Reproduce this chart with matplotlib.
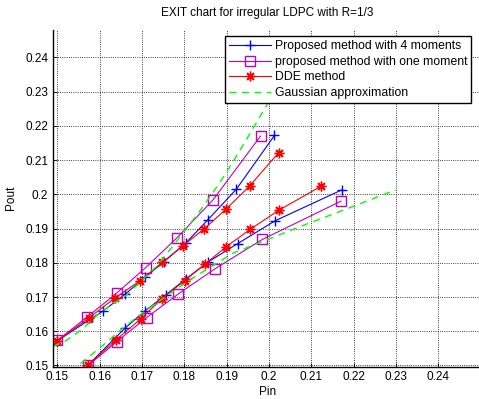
import matplotlib
matplotlib.use("Agg")
from matplotlib import pyplot as plt
import numpy as np

plt.rcParams['font.family'] = ['Liberation Sans', 'DejaVu Sans']

# upper branch of each curve (Pin, Pout); the lower branch is the inverse
pin_4mom = [0.1500, 0.1609, 0.1660, 0.1707, 0.1752, 0.1803, 0.1856, 0.1923, 0.2013]
pout_4mom = [0.1572, 0.1660, 0.1708, 0.1757, 0.1803, 0.1857, 0.1926, 0.2015, 0.2172]

pin_1mom = [0.1500, 0.1570, 0.1640, 0.1709, 0.1782, 0.1868, 0.1980]
pout_1mom = [0.1573, 0.1641, 0.1711, 0.1786, 0.1872, 0.1984, 0.2170]

pin_dde = [0.1500, 0.1574, 0.1636, 0.1695, 0.1748, 0.1796, 0.1846, 0.1898, 0.1954, 0.2023]
pout_dde = [0.1572, 0.1638, 0.1697, 0.1747, 0.1801, 0.1849, 0.1898, 0.1956, 0.2024, 0.2122]

# gaussian approximation, both branches
pin_ga_up = [0.1490, 0.1520, 0.1560, 0.1601, 0.1664, 0.1735, 0.1789, 0.1836, 0.1880, 0.1915, 0.1954, 0.1993, 0.2013]
pout_ga_up = [0.1556, 0.1572, 0.1607, 0.1655, 0.1706, 0.1790, 0.1874, 0.1950, 0.2027, 0.2095, 0.2175, 0.2257, 0.2300]
pin_ga_lo = [0.1555, 0.1609, 0.1656, 0.1703, 0.1758, 0.1813, 0.1915, 0.2072, 0.2189, 0.2299]
pout_ga_lo = [0.1505, 0.1560, 0.1610, 0.1655, 0.1703, 0.1750, 0.1828, 0.1905, 0.1960, 0.2013]

fig = plt.figure(figsize=(4.79, 3.99), dpi=100)
ax = fig.add_axes([53 / 479, 32.5 / 399, (482 - 53) / 479, (366.5 - 30) / 399])

lw = 0.8
series = [
    (pin_4mom, pout_4mom, 'b', '+', 'none', 'Proposed method with 4 moments'),
    (pin_1mom, pout_1mom, 'm', 's', 'none', 'proposed method with one moment'),
    (pin_dde, pout_dde, 'r', (8, 2, 0), 'r', 'DDE method'),
]
for x, y, c, mk, fc, lab in series:
    ax.plot(x, y, color=c, marker=mk, mfc=fc, mec=c, ms=7, lw=lw, mew=1.0, label=lab)
    ax.plot(y, x, color=c, marker=mk, mfc=fc, mec=c, ms=7, lw=lw, mew=1.0)

ax.plot(pin_ga_up, pout_ga_up, color=(0, 1, 0), ls='--', dashes=(5, 4), lw=1.0,
        label='Gaussian approximation')
ax.plot(pin_ga_lo, pout_ga_lo, color=(0, 1, 0), ls='--', dashes=(5, 4), lw=1.0)

ax.set_xlim(0.149, 0.2503)
ax.set_ylim(0.1497, 0.248)
ticks = np.round(np.arange(0.15, 0.245, 0.01), 2)
ax.set_xticks(ticks)
ax.set_yticks(ticks)
ax.set_xticklabels([f"{t:g}" for t in ticks])
ax.set_yticklabels([f"{t:g}" for t in ticks])
ax.tick_params(direction='in', length=3, labelsize=8.5, width=0.6)
ax.grid(True, ls=':', color='k', lw=0.6)
for s in ['top', 'right']:
    ax.spines[s].set_visible(False)
for s in ['left', 'bottom']:
    ax.spines[s].set_linewidth(1.0)

ax.set_title('EXIT chart for irregular LDPC with R=1/3', fontsize=8.5, pad=10)
ax.set_xlabel('Pin', fontsize=8.5, labelpad=2)
ax.set_ylabel('Pout', fontsize=8.5, labelpad=6)

leg = ax.legend(loc='upper right', bbox_to_anchor=(471 / 479, 1 - 36.5 / 399),
                bbox_transform=fig.transFigure, borderaxespad=0, fontsize=8.8,
                fancybox=False, framealpha=1, edgecolor='k', handlelength=3.4,
                handletextpad=0.35, labelspacing=0.3, borderpad=0.3)
leg.get_frame().set_linewidth(1.0)

fig.savefig('out.png', dpi=100)
